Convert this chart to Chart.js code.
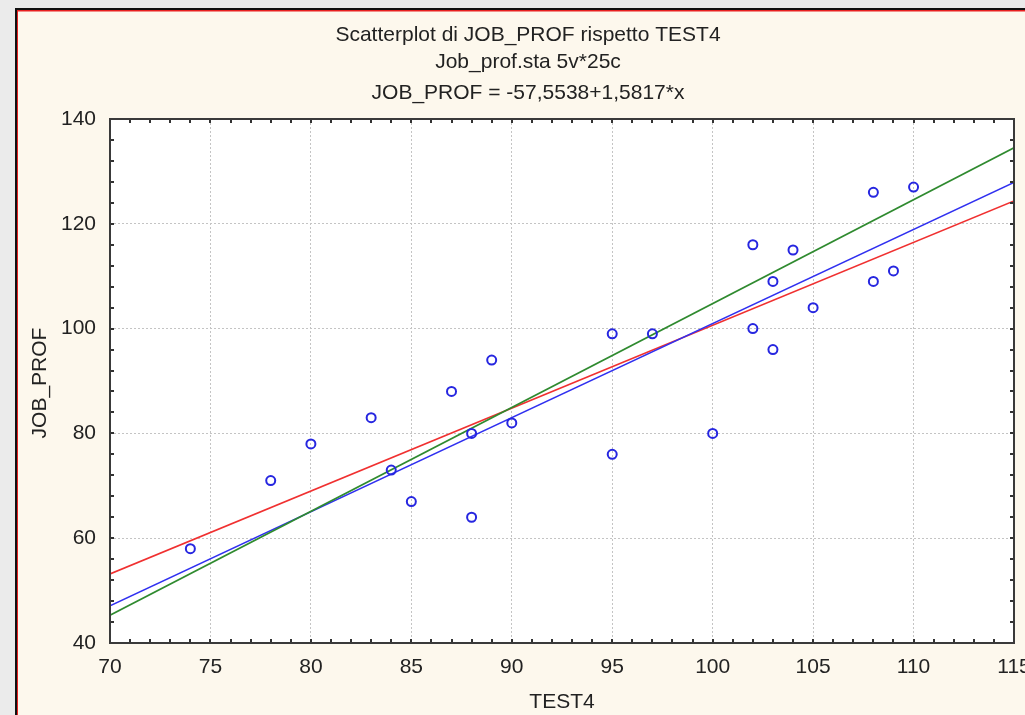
<!DOCTYPE html>
<html>
<head>
<meta charset="utf-8">
<script src="https://cdn.jsdelivr.net/npm/chart.js@4.4.1/dist/chart.umd.min.js"></script>
<style>
html,body{margin:0;padding:0;background:#ebebeb;overflow:hidden;width:1025px;height:715px;}
#wrap{position:absolute;left:0;top:0;width:1045px;height:715px;}
canvas{display:block;}
</style>
</head>
<body>
<div id="wrap"><canvas id="c" width="1045" height="715"></canvas></div>
<script>
// ---- data ----
const test4 = [74, 78, 80, 83, 84, 85, 87, 88, 88, 89, 90, 95, 95, 97, 100, 102, 102, 103, 103, 104, 105, 108, 108, 109, 110];
const jobProf = [58, 71, 78, 83, 73, 67, 88, 80, 64, 94, 82, 99, 76, 99, 80, 116, 100, 109, 96, 115, 104, 126, 109, 111, 127];
const lineX = [70, 115];
const redLineY = [53.17, 124.35];
const blueLineY = [47.1, 127.9];
const greenLineY = [45.3, 134.5];
const titleLines = ["Scatterplot di JOB_PROF rispetto TEST4", "Job_prof.sta 5v*25c", "JOB_PROF = -57,5538+1,5817*x"];
const xTitle = "TEST4";
const yTitle = "JOB_PROF";

const FONT = "'Liberation Sans', Arial, sans-serif";
const TXT = '#222222';

function pts(xs, ys){ return xs.map((x,i)=>({x:x, y:ys[i]})); }

const framePlugin = {
  id: 'frame',
  beforeDraw(chart){
    const ctx = chart.ctx;
    ctx.save();
    ctx.fillStyle = '#ebebeb';
    ctx.fillRect(0,0,chart.width,chart.height);
    ctx.fillStyle = '#111111';
    ctx.fillRect(15,8,chart.width,chart.height);
    ctx.fillStyle = '#e82020';
    ctx.fillRect(17,10,chart.width,chart.height);
    ctx.fillStyle = '#fdf8ed';
    ctx.fillRect(18,11.5,chart.width,chart.height);
    const a = chart.chartArea;
    ctx.fillStyle = '#ffffff';
    ctx.fillRect(a.left, a.top, a.right-a.left, a.bottom-a.top);
    ctx.restore();
  },
  afterDraw(chart){
    const ctx = chart.ctx;
    const a = chart.chartArea;
    const xs = chart.scales.x, ys = chart.scales.y;
    ctx.save();
    // ticks (inside, all four sides)
    ctx.strokeStyle = '#333333';
    ctx.lineWidth = 2;
    ctx.beginPath();
    for(let v = xs.min; v <= xs.max; v += 1){
      const px = Math.round(xs.getPixelForValue(v));
      ctx.moveTo(px, a.bottom); ctx.lineTo(px, a.bottom-4);
      ctx.moveTo(px, a.top); ctx.lineTo(px, a.top+4);
    }
    for(let v = ys.min; v <= ys.max; v += 4){
      const py = Math.round(ys.getPixelForValue(v));
      ctx.moveTo(a.left, py); ctx.lineTo(a.left+4, py);
      ctx.moveTo(a.right, py); ctx.lineTo(a.right-4, py);
    }
    ctx.stroke();
    // plot border
    ctx.strokeStyle = '#3a3a3a';
    ctx.lineWidth = 2;
    ctx.strokeRect(a.left, a.top, a.right-a.left, a.bottom-a.top);
    // titles
    ctx.fillStyle = TXT;
    ctx.font = '21px ' + FONT;
    ctx.textAlign = 'center';
    ctx.textBaseline = 'alphabetic';
    const base = [41, 68, 99];
    titleLines.forEach((t,i)=>ctx.fillText(t, 528, base[i]));
    ctx.fillText(xTitle, (a.left+a.right)/2, 708);
    ctx.translate(46, (a.top+a.bottom)/2 + 2);
    ctx.rotate(-Math.PI/2);
    ctx.fillText(yTitle, 0, 0);
    ctx.restore();
  }
};

new Chart(document.getElementById('c'), {
  type: 'scatter',
  data: {
    datasets: [
      { label: 'data', data: pts(test4, jobProf), pointStyle: 'circle', pointRadius: 4.5, pointHoverRadius: 4.5,
        borderWidth: 2, borderColor: '#2626e0', backgroundColor: 'rgba(0,0,0,0)', showLine: false },
      { label: 'green', data: pts(lineX, greenLineY), showLine: true, borderColor: '#2f8a2f', borderWidth: 1.6, pointRadius: 0, fill: false },
      { label: 'blue', data: pts(lineX, blueLineY), showLine: true, borderColor: '#3030f0', borderWidth: 1.6, pointRadius: 0, fill: false },
      { label: 'red', data: pts(lineX, redLineY), showLine: true, borderColor: '#f03030', borderWidth: 1.6, pointRadius: 0, fill: false }
    ]
  },
  options: {
    responsive: false,
    animation: false,
    devicePixelRatio: 1,
    layout: { padding: { top: 119, left: 0, right: 31, bottom: 0 } },
    plugins: { legend: { display: false }, tooltip: { enabled: false }, title: { display: false } },
    scales: {
      x: {
        type: 'linear', min: 70, max: 115,
        ticks: { stepSize: 5, color: TXT, font: { family: FONT, size: 21 }, padding: 12, maxRotation: 0 },
        grid: { color: '#c4c4c4', lineWidth: 1, drawTicks: false },
        border: { display: false, dash: [2,2] },
        afterFit(s){ s.height = 72; }
      },
      y: {
        type: 'linear', min: 40, max: 140,
        ticks: { stepSize: 20, color: TXT, font: { family: FONT, size: 21 }, padding: 14 },
        grid: { color: '#c4c4c4', lineWidth: 1, drawTicks: false },
        border: { display: false, dash: [2,2] },
        afterFit(s){ s.width = 110; }
      }
    }
  },
  plugins: [framePlugin]
});
</script>
</body>
</html>
